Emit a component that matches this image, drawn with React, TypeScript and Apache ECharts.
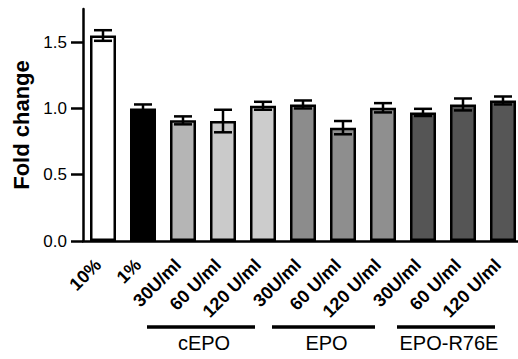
import React, { useEffect, useRef } from "react";
import * as echarts from "echarts";

const categories = [
  "10%", "1%",
  "30U/ml", "60 U/ml", "120 U/ml",
  "30U/ml ", "60 U/ml ", "120 U/ml ",
  "30U/ml  ", "60 U/ml  ", "120 U/ml  ",
];
const means = [1.55, 1.0, 0.91, 0.905, 1.02, 1.03, 0.855, 1.005, 0.97, 1.03, 1.06];
const errors = [0.04, 0.03, 0.03, 0.085, 0.03, 0.03, 0.05, 0.035, 0.027, 0.045, 0.03];
const barColors = [
  "#ffffff", "#000000",
  "#b5b5b5", "#cacaca", "#cccccc",
  "#8c8c8c", "#8e8e8e", "#8f8f8f",
  "#555555", "#555555", "#565656",
];
const groups = [
  { name: "cEPO", from: 2, to: 4 },
  { name: "EPO", from: 5, to: 7 },
  { name: "EPO-R76E", from: 8, to: 10 },
];
const yTicks = [0, 0.5, 1.0, 1.5];

const FONT = "'Liberation Sans', Arial, sans-serif";

export default function App() {
  const ref = useRef<HTMLDivElement>(null);
  useEffect(() => {
    document.body.style.margin = "0";
    if (!ref.current) return;
    const chart = echarts.init(ref.current, null, { renderer: "svg" });
    chart.setOption({
      animation: false,
      grid: { left: 83, top: 9, width: 440, height: 232, containLabel: false, outerBoundsMode: "none" },
      xAxis: {
        type: "category",
        data: categories,
        axisLine: { lineStyle: { color: "#000", width: 2.5 } },
        axisTick: { alignWithLabel: true, length: 9, lineStyle: { color: "#000", width: 2.5 } },
        axisLabel: {
          rotate: 45,
          interval: 0,
          margin: 16,
          padding: [0, 7, 0, 0],
          color: "#000",
          fontFamily: FONT,
          fontWeight: "bold",
          fontSize: 18,
          hideOverlap: false,
          formatter: (v: string) => v.trim(),
        },
      },
      yAxis: {
        type: "value",
        min: 0,
        max: 1.75,
        interval: 0.5,
        name: "Fold change",
        nameLocation: "middle",
        nameGap: 51,
        nameTextStyle: { fontFamily: FONT, fontWeight: "bold", fontSize: 22, color: "#000" },
        splitLine: { show: false },
        axisLine: { show: true, lineStyle: { color: "#000", width: 2.5 } },
        axisTick: { show: true, length: 12, lineStyle: { color: "#000", width: 2.5 }, customValues: yTicks },
        axisLabel: {
          color: "#000",
          fontFamily: FONT,
          fontSize: 17,
          margin: 16,
          customValues: yTicks,
          formatter: (v: number) => v.toFixed(1),
        },
      },
      series: [
        {
          type: "bar",
          barWidth: 26,
          data: means.map((m, i) => ({
            value: m,
            itemStyle: { color: barColors[i], borderColor: "#000", borderWidth: 2.5 },
          })),
        },
        {
          type: "custom",
          data: means.map((m, i) => [i, m - errors[i], m + errors[i]]),
          renderItem: (params: any, api: any) => {
            const x = api.value(0);
            const lo = api.coord([x, api.value(1)]);
            const hi = api.coord([x, api.value(2)]);
            const hw = 9;
            const style = { stroke: "#000", lineWidth: 2.5 };
            return {
              type: "group",
              children: [
                { type: "line", shape: { x1: lo[0], y1: lo[1], x2: hi[0], y2: hi[1] }, style },
                { type: "line", shape: { x1: lo[0] - hw, y1: lo[1], x2: lo[0] + hw, y2: lo[1] }, style },
                { type: "line", shape: { x1: hi[0] - hw, y1: hi[1], x2: hi[0] + hw, y2: hi[1] }, style },
              ],
            };
          },
          z: 5,
        },
      ],
    });
    const graphics: any[] = [];
    groups.forEach((g) => {
      const x1 = chart.convertToPixel({ xAxisIndex: 0 }, categories[g.from]) as number;
      const x2 = chart.convertToPixel({ xAxisIndex: 0 }, categories[g.to]) as number;
      const start = x1 - 36 + (g.from === 2 ? 0 : 5 * (g.from - 2) / 3);
      const end = x2 - 8;
      graphics.push({
        type: "line",
        shape: { x1: start, y1: 327, x2: end, y2: 327 },
        style: { stroke: "#000", lineWidth: 3.5 },
      });
      graphics.push({
        type: "text",
        x: (start + end) / 2 + 3,
        y: 343,
        style: {
          text: g.name,
          fill: "#000",
          font: `20px ${FONT}`,
          textAlign: "center",
          textVerticalAlign: "middle",
        },
      });
    });
    chart.setOption({ graphic: graphics });
    return () => chart.dispose();
  }, []);
  return <div ref={ref} style={{ width: 518, height: 359 }} />;
}
